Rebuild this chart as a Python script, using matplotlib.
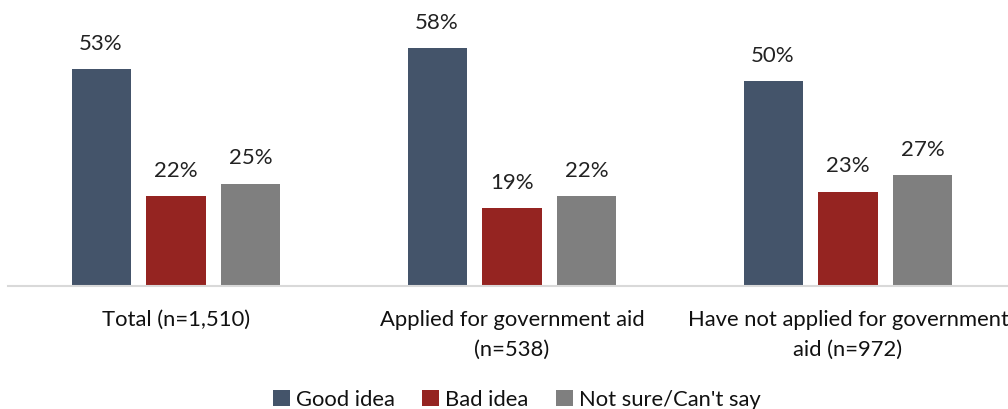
import matplotlib
matplotlib.use("Agg")
import matplotlib.pyplot as plt
import numpy as np

categories = ["Total (n=1,510)", "Applied for government aid\n(n=538)",
              "Have not applied for government\naid (n=972)"]
series_names = ["Good idea", "Bad idea", "Not sure/Can't say"]
good_idea = [53, 58, 50]
bad_idea = [22, 19, 23]
not_sure = [25, 22, 27]
colors = ["#44546A", "#952421", "#7F7F7F"]

plt.rcParams["font.family"] = ["Lato", "DejaVu Sans"]

W, H = 1008, 409
fig = plt.figure(figsize=(W / 100, H / 100), dpi=100)
ax = fig.add_axes([8 / W, (H - 286) / H, 1.0, 286 / H])

x = np.arange(len(categories))
width = 0.176
offset = 0.223
for i, (vals, name, col) in enumerate(zip([good_idea, bad_idea, not_sure], series_names, colors)):
    bars = ax.bar(x + (i - 1) * offset, vals, width, color=col, label=name)
    for b, v in zip(bars, vals):
        ax.annotate(f"{v}%", (b.get_x() + b.get_width() / 2, v), xytext=(0, 11),
                    textcoords="offset points", ha="center", va="bottom", fontsize=16, color="#222222")

ax.set_xlim(-0.5, 2.5)
ax.set_ylim(0, 69.8)
for s in ["top", "left", "right"]:
    ax.spines[s].set_visible(False)
ax.spines["bottom"].set_color("#D9D9D9")
ax.spines["bottom"].set_linewidth(1.5)
ax.set_yticks([])
ax.set_xticks(x)
ax.set_xticklabels(categories, fontsize=15.8, color="#111111", linespacing=1.65)
ax.tick_params(axis="x", length=0, pad=17)

fig.legend(loc="center", bbox_to_anchor=(517 / W, 1 - 400 / H), ncol=3, frameon=False,
           fontsize=15.8, handlelength=0.75, handleheight=0.75, handletextpad=0.3,
           columnspacing=1.25, labelcolor="#111111")

fig.savefig("out.png", dpi=100)
